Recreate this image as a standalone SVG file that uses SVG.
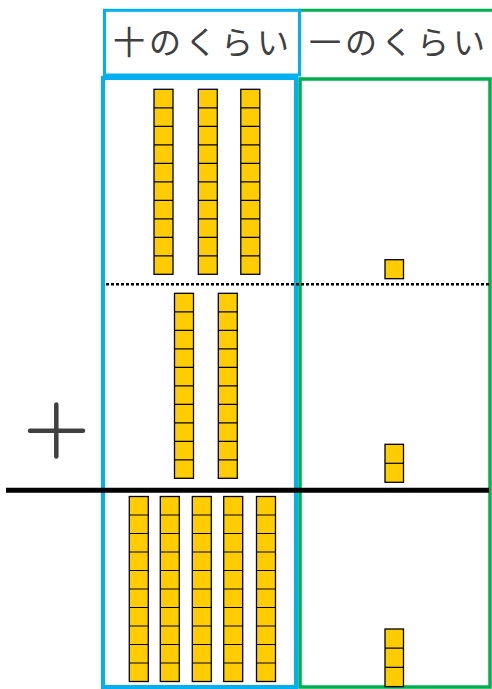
<svg xmlns="http://www.w3.org/2000/svg" xmlns:xlink="http://www.w3.org/1999/xlink" width="492" height="689" viewBox="0 0 492 689">
<style>
.hdr{font-family:"Noto Sans CJK JP","Noto Sans CJK SC",sans-serif;font-size:32px;fill:#404040;letter-spacing:4px}
.blk{fill:#FFCC00;stroke:#000;stroke-width:1.3}
.sep{stroke:#000;stroke-width:1.2}
</style>
<defs>
<g id="rod">
<rect class="blk" x="0" y="0" width="19" height="185"/>
<path class="sep" d="M0 18.5H19M0 37H19M0 55.5H19M0 74H19M0 92.5H19M0 111H19M0 129.5H19M0 148H19M0 166.5H19"/>
</g>
</defs>
<rect width="492" height="689" fill="#fff"/>
<g id="header-ones">
<line x1="299" y1="10.3" x2="492" y2="10.3" stroke="#00B050" stroke-width="3"/>
<text class="hdr" x="309" y="54">一のくらい</text>
</g>
<g id="header-tens">
<rect x="104.5" y="10.3" width="195" height="64.7" fill="none" stroke="#00B0F0" stroke-width="3"/>
<text class="hdr" x="113" y="54">十のくらい</text>
</g>
<g id="column-ones">
<rect x="300" y="79" width="190" height="608" fill="none" stroke="#00B050" stroke-width="3.5"/>
</g>
<g id="column-tens">
<rect x="103" y="78" width="193" height="609" fill="none" stroke="#00B0F0" stroke-width="4"/>
</g>
<g id="lines">
<line x1="106" y1="284.3" x2="490" y2="284.3" stroke="#000" stroke-width="2.6" stroke-dasharray="3 2"/>
<line x1="6" y1="490.3" x2="489" y2="490.3" stroke="#000" stroke-width="5"/>
</g>
<g id="plus">
<path d="M30 430.7H83M56.3 404.5V456.5" stroke="#404040" stroke-width="4.5" stroke-linecap="round" fill="none"/>
</g>
<g id="row1-tens">
<use xlink:href="#rod" x="154" y="89.3"/>
<use xlink:href="#rod" x="198.3" y="89.3"/>
<use xlink:href="#rod" x="240.8" y="89.3"/>
</g>
<g id="row1-ones">
<rect class="blk" x="385" y="259.7" width="18.5" height="19"/>
</g>
<g id="row2-tens">
<use xlink:href="#rod" x="174.5" y="293.3"/>
<use xlink:href="#rod" x="218.3" y="293.3"/>
</g>
<g id="row2-ones">
<rect class="blk" x="385" y="444.3" width="18.5" height="38"/>
<line class="sep" x1="385" y1="463.3" x2="403.5" y2="463.3"/>
</g>
<g id="row3-tens">
<use xlink:href="#rod" x="129.3" y="496.5"/>
<use xlink:href="#rod" x="160.3" y="496.5"/>
<use xlink:href="#rod" x="192.3" y="496.5"/>
<use xlink:href="#rod" x="223.7" y="496.5"/>
<use xlink:href="#rod" x="256.5" y="496.5"/>
</g>
<g id="row3-ones">
<rect class="blk" x="385" y="629" width="18.5" height="57.6"/>
<path class="sep" d="M385 648.2H403.5M385 667.4H403.5"/>
</g>
</svg>
